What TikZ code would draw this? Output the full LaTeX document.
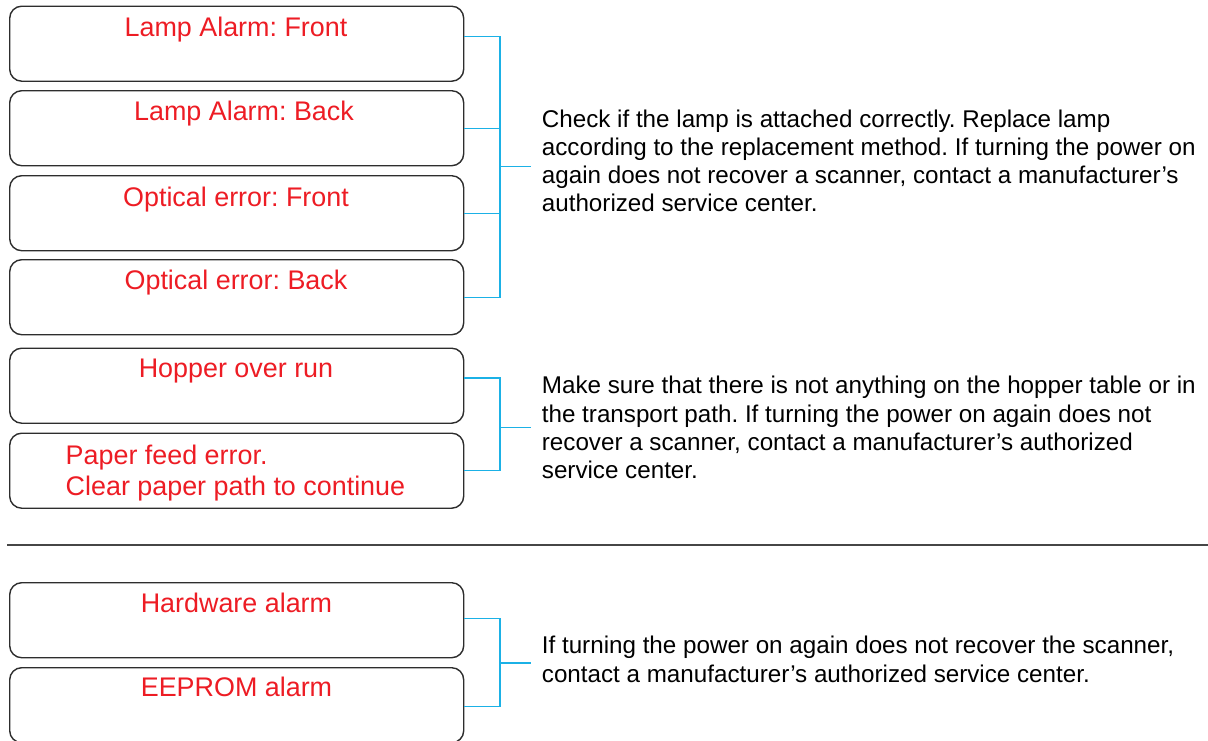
\documentclass[tikz,border=0pt]{standalone}
\usepackage{fontspec}
\setmainfont{Liberation Sans}
\frenchspacing
\definecolor{labred}{RGB}{237,28,36}
\definecolor{brcyan}{RGB}{27,177,230}
\definecolor{boxgray}{RGB}{45,45,45}
\definecolor{sepgray}{RGB}{70,70,70}
\begin{document}
\begin{tikzpicture}[x=1pt,y=-1pt,
  errbox/.style={draw=boxgray, line width=1.4pt, rounded corners=12pt,
    minimum width=454pt, minimum height=75pt, anchor=north west, inner sep=0pt},
  lab/.style={text=labred, font=\fontsize{26.9}{31}\selectfont, inner sep=0pt, anchor=base},
  labl/.style={text=labred, font=\fontsize{26.9}{31}\selectfont, inner sep=0pt, anchor=base west, align=left},
  desc/.style={text=black, font=\fontsize{24.2}{28.1}\selectfont, inner ysep=0pt, inner xsep=10.7pt, anchor=base west, align=left},
  br/.style={draw=brcyan, line width=1.4pt},
  sepline/.style={draw=sepgray, line width=1.4pt}]
\useasboundingbox (0,0) rectangle (1208,740);

% boxes
\node[errbox] (b1) at (9,5.5) {};
\node[errbox] (b2) at (9,90) {};
\node[errbox] (b3) at (9,175) {};
\node[errbox] (b4) at (9,259) {};
\node[errbox] (b5) at (9,347.5) {};
\node[errbox] (b6) at (9,432.5) {};
\node[errbox] (b7) at (9,582) {};
\node[errbox] (b8) at (9,667) {};

% labels
\node[lab] (l1) at (236,36) {Lamp Alarm: Front};
\node[lab] (l2) at (244,120.5) {Lamp Alarm: Back};
\node[lab] (l3) at (236,206) {Optical error: Front};
\node[lab] (l4) at (236,289.5) {Optical error: Back};
\node[lab] (l5) at (236,377) {Hopper over run};
\node[labl] (l6) at (65.5,495.3) {Paper feed error.\\Clear paper path to continue};
\node[lab] (l7) at (236.5,612.5) {Hardware alarm};
\node[lab] (l8) at (236.5,696) {EEPROM alarm};

% descriptions (anchored at the baseline of their last line)
\node[desc] (d1) at (531,211.6) {Check if the lamp is attached correctly. Replace lamp\\
according to the replacement method. If turning the power on\\
again does not recover a scanner, contact a manufacturer’s\\
authorized service center.};
\node[desc] (d2) at (531,478.2) {Make sure that there is not anything on the hopper table or in\\
the transport path. If turning the power on again does not\\
recover a scanner, contact a manufacturer’s authorized\\
service center.};
\node[desc] (d3) at (531,682) {If turning the power on again does not recover the scanner,\\
contact a manufacturer’s authorized service center.};

% tie points
\coordinate (t1) at ([yshift=7.5pt]b1.east);
\coordinate (t2) at (b2.east);
\coordinate (t3) at (b3.east);
\coordinate (t4) at (b4.east);
\coordinate (t5) at ([yshift=7.7pt]b5.east);
\coordinate (t6) at (b6.east);
\coordinate (t7) at ([yshift=1.5pt]b7.east);
\coordinate (t8) at ([yshift=-1.5pt]b8.east);
\coordinate (j1) at (500,166.5);
\coordinate (j2) at (500,427.7);
\coordinate (j3) at (500,663);

% brackets
\draw[br] (t1) -- (t1 -| j1) -- (t4 -| j1) -- (t4);
\draw[br] (t2) -- (t2 -| j1);
\draw[br] (t3) -- (t3 -| j1);
\draw[br] (j1) -- (j1 -| d1.west);
\draw[br] (t5) -- (t5 -| j2) -- (t6 -| j2) -- (t6);
\draw[br] (j2) -- (j2 -| d2.west);
\draw[br] (t7) -- (t7 -| j3) -- (t8 -| j3) -- (t8);
\draw[br] (j3) -- (j3 -| d3.west);

% separator
\draw[sepline] (7,545) -- (1208,545);
\end{tikzpicture}
\end{document}
